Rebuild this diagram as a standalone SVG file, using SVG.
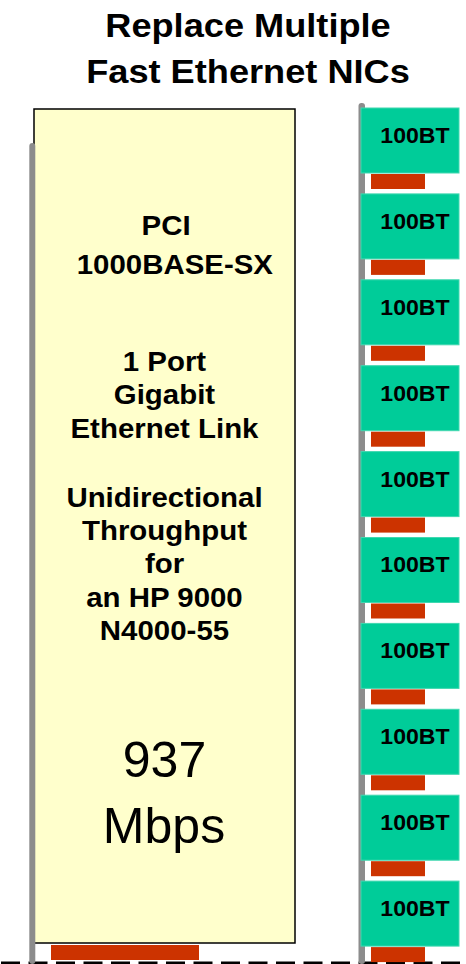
<svg xmlns="http://www.w3.org/2000/svg" width="466" height="964" viewBox="0 0 466 964">
  <style>
    .title { font-family: "Liberation Sans", Arial, sans-serif; font-weight: bold; font-size: 33.5px; fill: #000; text-anchor: middle; }
    .card-text { font-family: "Liberation Sans", Arial, sans-serif; font-weight: bold; font-size: 27px; fill: #000; text-anchor: middle; }
    .rate { font-family: "Liberation Sans", Arial, sans-serif; font-size: 50px; fill: #000; text-anchor: middle; }
    .nic-label { font-family: "Liberation Sans", Arial, sans-serif; font-weight: bold; font-size: 22px; fill: #000; text-anchor: middle; }
    .rail { fill: #8c8c8c; }
    .nic { fill: #00cc99; stroke: #40d8b0; stroke-width: 1; }
    .contact { fill: #cc3300; }
  </style>
  <defs>
    <g id="nic-card">
      <rect class="nic" x="361" y="0" width="98" height="65"/>
      <rect class="contact" x="371" y="66" width="54" height="15"/>
      <text class="nic-label" x="415" y="35" transform="translate(415 0) scale(1.05 1) translate(-415 0)">100BT</text>
    </g>
  </defs>

  <rect width="466" height="964" fill="#ffffff"/>

  <!-- heading -->
  <g id="title" transform="translate(248 0) scale(1.08 1) translate(-248 0)">
    <text class="title" x="248" y="37">Replace Multiple</text>
    <text class="title" x="248" y="83">Fast Ethernet NICs</text>
  </g>

  <!-- connectors: bottom bus -->
  <g id="connectors">
    <line x1="0" y1="963" x2="466" y2="963" stroke="#000" stroke-width="3" stroke-dasharray="19 8.5" stroke-dashoffset="-1"/>
  </g>

  <!-- gigabit adapter card -->
  <g id="gigabit-card">
    <rect x="34" y="109" width="261" height="834" fill="#ffffcc" stroke="#000" stroke-width="1.5"/>
    <rect class="contact" x="51" y="945" width="148" height="15"/>
    <rect class="rail" x="29.3" y="143" width="6" height="821" rx="3"/>
    <g transform="translate(164.5 0) scale(1.09 1) translate(-164.5 0)">
      <text class="card-text" x="166" y="235">PCI</text>
      <text class="card-text" x="174" y="274">1000BASE-SX</text>
      <text class="card-text" x="164.5" y="371">1 Port</text>
      <text class="card-text" x="164.5" y="404">Gigabit</text>
      <text class="card-text" x="164.5" y="438">Ethernet Link</text>
      <text class="card-text" x="164.5" y="507">Unidirectional</text>
      <text class="card-text" x="164.5" y="540">Throughput</text>
      <text class="card-text" x="164.5" y="573">for</text>
      <text class="card-text" x="164.5" y="607">an HP 9000</text>
      <text class="card-text" x="164.5" y="640">N4000-55</text>
    </g>
    <text class="rate" x="164.5" y="777">937</text>
    <text class="rate" x="164" y="843">Mbps</text>
  </g>

  <!-- stack of Fast Ethernet cards -->
  <rect class="rail" x="358.5" y="103" width="6.5" height="861" rx="3"/>
  <g id="nic-1"><use href="#nic-card" y="108"/></g>
  <g id="nic-2"><use href="#nic-card" y="193.9"/></g>
  <g id="nic-3"><use href="#nic-card" y="279.8"/></g>
  <g id="nic-4"><use href="#nic-card" y="365.7"/></g>
  <g id="nic-5"><use href="#nic-card" y="451.6"/></g>
  <g id="nic-6"><use href="#nic-card" y="537.5"/></g>
  <g id="nic-7"><use href="#nic-card" y="623.4"/></g>
  <g id="nic-8"><use href="#nic-card" y="709.3"/></g>
  <g id="nic-9"><use href="#nic-card" y="795.2"/></g>
  <g id="nic-10"><use href="#nic-card" y="881.1"/></g>
</svg>
